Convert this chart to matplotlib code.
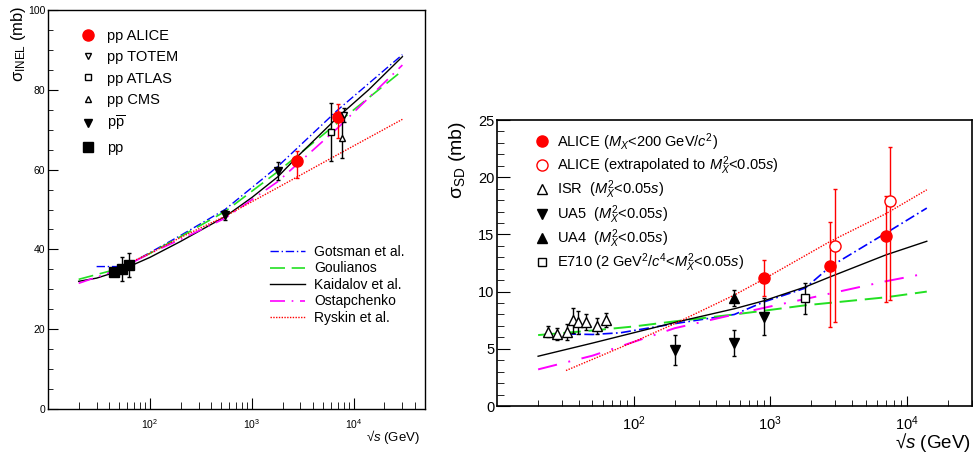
import numpy as np
import matplotlib
matplotlib.use("Agg")
import matplotlib.pyplot as plt
from matplotlib.ticker import FixedLocator, MultipleLocator, LogFormatterMathtext, NullFormatter

plt.rcParams['font.family'] = ['Liberation Sans', 'DejaVu Sans']
plt.rcParams['mathtext.fontset'] = 'custom'
plt.rcParams['mathtext.rm'] = 'Liberation Sans'
plt.rcParams['mathtext.it'] = 'Liberation Sans:italic'
plt.rcParams['mathtext.bf'] = 'Liberation Sans:bold'

# ---------------- left panel: inelastic cross section ----------------
alice_s = [2760, 7000]
alice_inel = [62.2, 73.1]
alice_lo = [4.4, 5.3]
alice_hi = [2.5, 3.3]

totem_s = [8000]
totem_inel = [73.7]
totem_err = [1.8]

atlas_s = [6000]
atlas_inel = [69.4]
atlas_err = [7.2]

cms_s = [7600]
cms_inel = [67.8]
cms_err = [4.8]

ppbar_s = [546, 1800]
ppbar_inel = [48.6, 59.6]
ppbar_err = [1.2, 2.3]

pp_s = [44.7, 52.8, 62.5]
pp_inel = [34.3, 35.1, 36.1]
pp_err = [0.8, 2.9, 2.9]

gots_s = [30, 50, 70, 100, 200, 546, 1800, 7000, 30000]
gots_inel = [35.7, 35.7, 37.0, 39.2, 43.5, 50.0, 60.8, 75.0, 88.8]
goul_s = [20, 50, 100, 200, 546, 1800, 7000, 30000]
goul_inel = [32.5, 35.2, 39.0, 43.2, 49.5, 59.5, 71.8, 84.8]
kaid_s = [20, 30, 50, 100, 200, 546, 1000, 1800, 2760, 7000, 14000, 30000]
kaid_inel = [32.0, 32.8, 34.6, 38.0, 42.0, 48.2, 53.0, 58.2, 63.1, 73.2, 80.0, 88.3]
ostap_s = [20, 50, 100, 200, 546, 1800, 7000, 30000]
ostap_inel = [31.5, 35.0, 39.0, 42.5, 47.8, 57.0, 70.5, 86.2]
rysk_s = [65, 100, 200, 546, 1800, 7000, 30000]
rysk_inel = [36.8, 39.0, 43.0, 48.3, 55.5, 63.8, 72.6]

# ---------------- right panel: single diffraction ----------------
alice_sd_s = [900, 2760, 7000]
alice_sd = [11.2, 12.2, 14.9]
alice_sd_lo = [1.6, 5.3, 5.8]
alice_sd_hi = [1.6, 3.9, 3.5]

alice_ext_s = [3000, 7500]
alice_ext = [14.0, 17.9]
alice_ext_lo = [6.7, 8.6]
alice_ext_hi = [5.0, 4.7]

isr_s = [23.5, 27.6, 32.7, 35.9, 39.0, 45.0, 54.1, 63.2]
isr_sd = [6.5, 6.3, 6.5, 7.5, 7.3, 7.3, 7.0, 7.5]
isr_err = [0.5, 0.5, 0.7, 1.1, 1.0, 0.7, 0.7, 0.6]

ua5_s = [200, 546, 900]
ua5_sd = [4.9, 5.5, 7.8]
ua5_err = [1.3, 1.1, 1.6]

ua4_s = [546]
ua4_sd = [9.4]
ua4_err = [0.7]

e710_s = [1800]
e710_sd = [9.4]
e710_err = [1.35]

gots_sd_s = [32, 50, 80, 200, 546, 900, 1800, 2760, 7000, 14000]
gots_sd = [6.3, 6.25, 6.4, 7.2, 8.0, 9.1, 10.3, 12.2, 15.1, 17.3]
goul_sd_s = [20, 50, 100, 200, 546, 1000, 1800, 7000, 14000]
goul_sd = [6.2, 6.6, 6.95, 7.4, 8.0, 8.4, 8.8, 9.5, 10.0]
kaid_sd_s = [20, 50, 100, 200, 546, 900, 1800, 2760, 7000, 14000]
kaid_sd = [4.35, 5.5, 6.4, 7.3, 8.5, 9.2, 10.4, 11.3, 13.2, 14.4]
ostap_sd_s = [20, 50, 100, 200, 546, 1000, 1800, 7000, 14000]
ostap_sd = [3.2, 4.4, 5.6, 6.8, 8.0, 8.7, 9.35, 10.9, 11.6]
rysk_sd_s = [32, 100, 200, 546, 900, 2760, 7000, 14000]
rysk_sd = [3.1, 5.6, 7.2, 9.7, 11.1, 14.4, 16.8, 18.9]

GREEN = '#22e022'

fig = plt.figure(figsize=(9.75, 4.55), dpi=100)

ax1 = fig.add_axes([48 / 975, 1 - 409 / 455, 377 / 975, 399 / 455])
ax1.set_xscale('log')

l1 = ax1.plot(gots_s, gots_inel, color='blue', lw=1, ls=(0, (6, 2, 1, 2)), label='Gotsman et al.')[0]
l2 = ax1.plot(goul_s, goul_inel, color=GREEN, lw=1.2, ls=(0, (9, 4)), label='Goulianos')[0]
l3 = ax1.plot(kaid_s, kaid_inel, color='black', lw=1, label='Kaidalov et al.')[0]
l4 = ax1.plot(ostap_s, ostap_inel, color='magenta', lw=1.2, ls=(0, (9, 4, 1, 4)), label='Ostapchenko')[0]
l5 = ax1.plot(rysk_s, rysk_inel, color='red', lw=1, ls=(0, (1, 1)), label='Ryskin et al.')[0]

eb = dict(capsize=1.5, elinewidth=1, capthick=1, ls='none')
m1 = ax1.errorbar(alice_s, alice_inel, yerr=[alice_lo, alice_hi], fmt='o', color='red', ms=8, **eb)
m2 = ax1.errorbar(totem_s, totem_inel, yerr=totem_err, fmt='v', color='black', mfc='white', ms=5, **eb)
m3 = ax1.errorbar(atlas_s, atlas_inel, yerr=atlas_err, fmt='s', color='black', mfc='white', ms=5, **eb)
m4 = ax1.errorbar(cms_s, cms_inel, yerr=cms_err, fmt='^', color='black', mfc='white', ms=5, **eb)
m5 = ax1.errorbar(ppbar_s, ppbar_inel, yerr=ppbar_err, fmt='v', color='black', ms=6, **eb)
m6 = ax1.errorbar(pp_s, pp_inel, yerr=pp_err, fmt='s', color='black', ms=6.5, **eb)
left_labels = ['pp ALICE', 'pp TOTEM', 'pp ATLAS', 'pp CMS', r'p$\overline{\mathrm{p}}$', 'pp']

ax1.set_xlim(10, 5e4)
ax1.set_ylim(0, 100)
ax1.xaxis.set_major_locator(FixedLocator([1e2, 1e3, 1e4]))
ax1.xaxis.set_major_formatter(LogFormatterMathtext())
minors = [m * d for d in (10, 100, 1000, 10000) for m in range(2, 10)]
ax1.xaxis.set_minor_locator(FixedLocator(minors))
ax1.xaxis.set_minor_formatter(NullFormatter())
ax1.yaxis.set_major_locator(MultipleLocator(20))
ax1.yaxis.set_minor_locator(MultipleLocator(5))
ax1.tick_params(which='both', direction='in', labelsize=7.5, top=False, right=False)
ax1.tick_params(axis='x', which='major', length=8, pad=6)
ax1.tick_params(axis='x', which='minor', length=5)
ax1.tick_params(axis='y', which='major', length=7, pad=2)
ax1.tick_params(axis='y', which='minor', length=3.6)
for sp in ax1.spines.values():
    sp.set_linewidth(1)

leg1 = ax1.legend(handles=[m[0] for m in (m1, m2, m3, m4, m5, m6)], labels=left_labels,
                  loc='upper left',
                  bbox_to_anchor=(80.7 / 975, 1 - 29 / 455), bbox_transform=fig.transFigure,
                  frameon=False, fontsize=10.5, handlelength=1.0, handletextpad=0.8,
                  labelspacing=0.5, borderpad=0, borderaxespad=0)
ax1.add_artist(leg1)
ax1.legend(handles=[l1, l2, l3, l4, l5], loc='upper left',
           bbox_to_anchor=(270 / 975, 1 - 245 / 455), bbox_transform=fig.transFigure,
           frameon=False, fontsize=10, handlelength=2.52, handletextpad=0.65,
           labelspacing=0.18, borderpad=0, borderaxespad=0)

fig.text(420 / 975, 1 - 437 / 455, '√$s$ (GeV)', ha='right', va='center', fontsize=9.5)
fig.text(19 / 975, 1 - 5 / 455, r'σ$_{\mathrm{INEL}}$ (mb)', rotation=90,
         ha='center', va='top', fontsize=12)

# ---------------- right panel ----------------
ax2 = fig.add_axes([497 / 975, 1 - 406 / 455, 475 / 975, 286 / 455])
ax2.set_xscale('log')

ax2.plot(gots_sd_s, gots_sd, color='blue', lw=1.2, ls=(0, (6, 2, 1, 2)))
ax2.plot(goul_sd_s, goul_sd, color=GREEN, lw=1.4, ls=(0, (9, 4)))
ax2.plot(kaid_sd_s, kaid_sd, color='black', lw=1)
ax2.plot(ostap_sd_s, ostap_sd, color='magenta', lw=1.4, ls=(0, (10, 6, 1, 6)))
ax2.plot(rysk_sd_s, rysk_sd, color='red', lw=1, ls=(0, (1, 1)))

n1 = ax2.errorbar(alice_sd_s, alice_sd, yerr=[alice_sd_lo, alice_sd_hi], fmt='o', color='red', ms=8, **eb)
n2 = ax2.errorbar(alice_ext_s, alice_ext, yerr=[alice_ext_lo, alice_ext_hi], fmt='o', color='red',
                  mfc='white', ms=8, **eb)
n3 = ax2.errorbar(isr_s, isr_sd, yerr=isr_err, fmt='^', color='black', mfc='white', ms=6.5, **eb)
n4 = ax2.errorbar(ua5_s, ua5_sd, yerr=ua5_err, fmt='v', color='black', ms=6.5, **eb)
n5 = ax2.errorbar(ua4_s, ua4_sd, yerr=ua4_err, fmt='^', color='black', ms=6.5, **eb)
n6 = ax2.errorbar(e710_s, e710_sd, yerr=e710_err, fmt='s', color='black', mfc='white', ms=5.5, **eb)
right_labels = [r'ALICE ($M_X$<200 GeV/$c^2$)',
                r'ALICE (extrapolated to $M_X^2$<0.05$s$)',
                r'ISR  ($M_X^2$<0.05$s$)',
                r'UA5  ($M_X^2$<0.05$s$)',
                r'UA4  ($M_X^2$<0.05$s$)',
                r'E710 (2 GeV$^2$/$c^4$<$M_X^2$<0.05$s$)']

ax2.set_xlim(10, 3e4)
ax2.set_ylim(0, 25)
ax2.xaxis.set_major_locator(FixedLocator([1e2, 1e3, 1e4]))
ax2.xaxis.set_major_formatter(LogFormatterMathtext())
ax2.xaxis.set_minor_locator(FixedLocator(minors))
ax2.xaxis.set_minor_formatter(NullFormatter())
ax2.yaxis.set_major_locator(MultipleLocator(5))
ax2.yaxis.set_minor_locator(MultipleLocator(1))
ax2.tick_params(which='both', direction='in', labelsize=10.5, top=False, right=False)
ax2.tick_params(axis='x', which='major', length=7, pad=6)
ax2.tick_params(axis='x', which='minor', length=4)
ax2.tick_params(axis='y', which='major', length=9, pad=2)
ax2.tick_params(axis='y', which='minor', length=5)
for sp in ax2.spines.values():
    sp.set_linewidth(1.2)

ax2.legend(handles=[n[0] for n in (n1, n2, n3, n4, n5, n6)], labels=right_labels,
           loc='upper left',
           bbox_to_anchor=(534.4 / 975, 1 - 131 / 455), bbox_transform=fig.transFigure,
           frameon=False, fontsize=10.5, handlelength=1.0, handletextpad=0.55,
           labelspacing=0.12, borderpad=0, borderaxespad=0)

fig.text(971 / 975, 1 - 443 / 455, '√$s$ (GeV)', ha='right', va='center', fontsize=13.5)
fig.text(457 / 975, 1 - 121 / 455, r'σ$_{\mathrm{SD}}$ (mb)', rotation=90,
         ha='center', va='top', fontsize=14)

fig.savefig('out.png', dpi=100)
